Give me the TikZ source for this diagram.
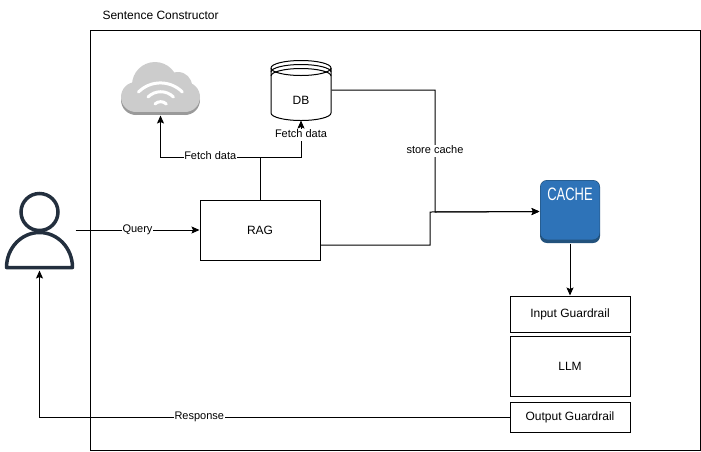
\documentclass[tikz,border=0pt]{standalone}
\usepackage{fontspec}
\setmainfont{Liberation Sans}
\usetikzlibrary{arrows.meta}
\definecolor{usercolor}{HTML}{232F3E}
\definecolor{cloudlight}{HTML}{CCCCCC}
\definecolor{clouddark}{HTML}{9A9A9A}
\definecolor{cachelight}{HTML}{2E73B8}
\definecolor{cachedark}{HTML}{23527C}
\newcommand{\cloudlobes}[2]{
	\fill[#1] (136,#2+97) circle (15);
	\fill[#1] (185,#2+97) circle (15);
	\fill[#1] (178,#2+86) circle (14);
	\fill[#1] (155,#2+85) circle (23);
	\fill[#1] (136,#2+97) rectangle (185,#2+112);
}
\begin{document}
\begin{tikzpicture}[x=1pt, y=-1pt, line width=1pt, font=\fontsize{12}{14}\selectfont,
	box/.style={draw, minimum width=120pt, inner sep=0pt},
	ghost/.style={inner sep=0pt},
	conn/.style={draw, -{Stealth[length=8pt, width=7pt, inset=1.5pt]}},
	edgelabel/.style={fill=white, inner sep=0.5pt, text height=8pt, text depth=2.5pt, font=\fontsize{11}{13}\selectfont},
	wifi/.style={draw=white, line width=3pt, line cap=round}]
	\useasboundingbox (0,0) rectangle (701,451);
	\node[draw, minimum width=610pt, minimum height=420pt, inner sep=0pt] (frame) at (395,240) {};
	\node[anchor=west, inner sep=0pt] (title) at (102,15) {Sentence Constructor};

	\node[box, minimum height=60pt] (rag) at (260,230) {RAG};
	\node[box, minimum height=36pt] (input) at (570,314) {Input Guardrail};
	\node[box, minimum height=60pt] (llm) at (570,366) {LLM};
	\node[box, minimum height=30pt] (output) at (570,417) {Output Guardrail};

	\draw[usercolor, line width=3.5pt] (39.5,212) circle (18.5);
	\draw[usercolor, line width=3.5pt, line join=round] (6.5,267.5) arc [x radius=33, y radius=35, start angle=180, end angle=360] -- cycle;
	\node[ghost, minimum width=71pt, minimum height=80pt] (user) at (39.5,230) {};

	\cloudlobes{clouddark}{3}
	\cloudlobes{cloudlight}{0}
	\draw[wifi] (138.5,92) arc [radius=31, start angle=-135, end angle=-45];
	\draw[wifi] (148,97) arc [radius=18, start angle=-135, end angle=-45];
	\draw[wifi] (155,104) arc [radius=8, start angle=-135, end angle=-45];
	\node[ghost, minimum width=80pt, minimum height=53pt] (cloud) at (160.5,88.5) {};

	\draw (271,68) arc [x radius=30, y radius=7.5, start angle=180, end angle=540];
	\draw (271,68) -- (271,113) arc [x radius=30, y radius=7.5, start angle=180, end angle=0] -- (331,68);
	\draw (271,72) arc [x radius=30, y radius=7.5, start angle=180, end angle=360];
	\draw (271,76) arc [x radius=30, y radius=7.5, start angle=180, end angle=360];
	\node[ghost, minimum width=60pt, minimum height=60pt] (db) at (301,90) {};
	\node[ghost] (dblabel) at (301,100) {DB};

	\fill[cachedark, rounded corners=7pt] (540,180) rectangle (600,243);
	\fill[cachelight, rounded corners=7pt] (540.5,180.5) rectangle (599.5,239.5);
	\node[ghost, minimum width=60pt, minimum height=63pt] (cache) at (570,211.5) {};
	\node[ghost, text=white] (cachelabel) at (570,194.5) {\fontsize{18}{20}\selectfont\scalebox{0.72}[1]{CACHE}};

	\coordinate (fork) at (260,157);
	\coordinate (merge) at (435,212);
	\coordinate (joint) at (430,212);

	\draw[conn] (user.east) -- node[edgelabel] {Query} (rag.west);
	\draw (rag.north) -- (fork);
	\draw[conn] (fork) -| node[edgelabel, pos=0.25] {Fetch data} (cloud.south);
	\draw[conn] (fork) -| node[edgelabel, pos=0.8] {Fetch data} (db.south);
	\draw[conn] (db.east) -| node[edgelabel, pos=0.75] {store cache} (merge) -- (cache.west);
	\draw[conn] ([yshift=-15pt]rag.east) -| (joint) -- (cache.west);
	\draw[conn] (cache.south) -- (input.north);
	\draw[conn] (output.west) -| node[edgelabel, pos=0.33] {Response} (user.south);
\end{tikzpicture}
\end{document}
